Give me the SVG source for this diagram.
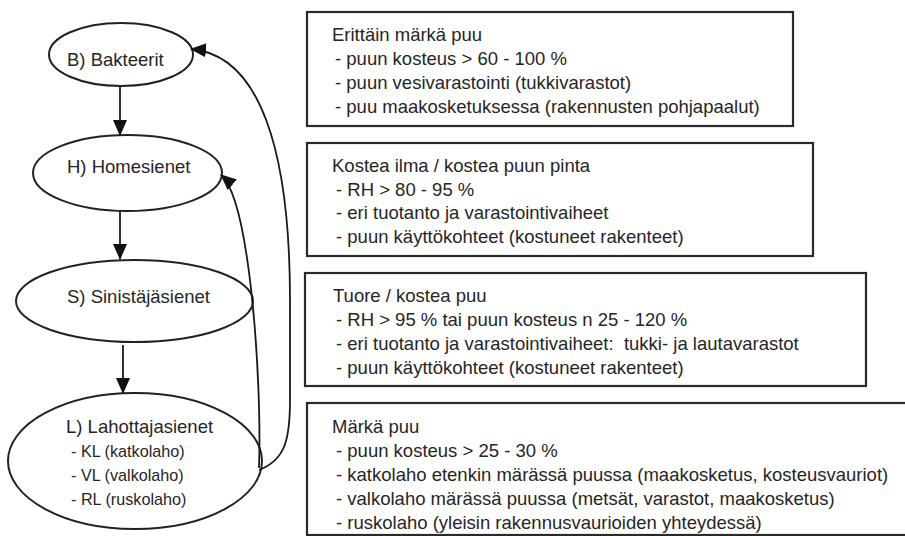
<svg xmlns="http://www.w3.org/2000/svg" width="905" height="536" viewBox="0 0 905 536">
<defs>
<style>
.node{fill:#fff;stroke:#222;stroke-width:2}
.box{fill:#fff;stroke:#2a2a2a;stroke-width:2.2}
.t{font-family:"Liberation Sans",Arial,sans-serif;font-size:18.5px;fill:#262626}
.s{font-family:"Liberation Sans",Arial,sans-serif;font-size:16.2px;fill:#262626}
.c{fill:none;stroke:#1a1a1a;stroke-width:1.8}
</style>
<marker id="ah" markerUnits="userSpaceOnUse" markerWidth="16" markerHeight="16" viewBox="0 0 16 14" refX="15" refY="7" orient="auto">
<path d="M0,0 L16,7 L0,14 Z" fill="#111"/>
</marker>
</defs>
<rect width="905" height="536" fill="#fff"/>

<g id="node-B">
<ellipse class="node" cx="121" cy="54.5" rx="72" ry="31.5"/>
<text class="t" x="67" y="66">B) Bakteerit</text>
</g>
<g id="node-H">
<ellipse class="node" cx="127.5" cy="173" rx="94.5" ry="38"/>
<text class="t" x="67" y="173">H) Homesienet</text>
</g>
<g id="node-S">
<ellipse class="node" cx="134.5" cy="301" rx="118.5" ry="41"/>
<text class="t" x="67" y="303">S) Sinistäjäsienet</text>
</g>
<g id="node-L">
<ellipse class="node" cx="135" cy="461" rx="127" ry="68"/>
<text class="t" x="66" y="433">L) Lahottajasienet</text>
<text class="s" x="71" y="457">- KL (katkolaho)</text>
<text class="s" x="71" y="481">- VL (valkolaho)</text>
<text class="s" x="71" y="505">- RL (ruskolaho)</text>
</g>

<g id="connectors">
<path class="c" d="M120,86 L120,135" marker-end="url(#ah)"/>
<path class="c" d="M120,211 L120,259" marker-end="url(#ah)"/>
<path class="c" d="M123,345 L123,393" marker-end="url(#ah)"/>
<path class="c" d="M259,468 C262,380 250,200 221,175" marker-end="url(#ah)"/>
<path class="c" d="M259,470 C285,460 290,440 290,400 L290,300 C290,150 260,55 191,49" marker-end="url(#ah)"/>
</g>

<g id="box-1">
<rect class="box" x="307" y="12" width="486" height="114"/>
<text class="t" x="332" y="41">Erittäin märkä puu</text>
<text class="t" x="335" y="65">- puun kosteus &gt; 60 - 100 %</text>
<text class="t" x="335" y="89">- puun vesivarastointi (tukkivarastot)</text>
<text class="t" x="335" y="113">- puu maakosketuksessa (rakennusten pohjapaalut)</text>
</g>
<g id="box-2">
<rect class="box" x="307" y="143" width="506" height="113"/>
<text class="t" x="332" y="172">Kostea ilma / kostea puun pinta</text>
<text class="t" x="336" y="196">- RH &gt; 80 - 95 %</text>
<text class="t" x="336" y="219">- eri tuotanto ja varastointivaiheet</text>
<text class="t" x="336" y="243">- puun käyttökohteet (kostuneet rakenteet)</text>
</g>
<g id="box-3">
<rect class="box" x="305" y="273" width="561" height="113"/>
<text class="t" x="333" y="302">Tuore / kostea puu</text>
<text class="t" x="336" y="326">- RH &gt; 95 % tai puun kosteus n 25 - 120 %</text>
<text class="t" x="336" y="350">- eri tuotanto ja varastointivaiheet:&#160; tukki- ja lautavarastot</text>
<text class="t" x="336" y="374">- puun käyttökohteet (kostuneet rakenteet)</text>
</g>
<g id="box-4">
<rect class="box" x="307" y="403" width="610" height="132"/>
<text class="t" x="332" y="433">Märkä puu</text>
<text class="t" x="336" y="457">- puun kosteus &gt; 25 - 30 %</text>
<text class="t" x="336" y="481">- katkolaho etenkin märässä puussa (maakosketus, kosteusvauriot)</text>
<text class="t" x="336" y="505">- valkolaho märässä puussa (metsät, varastot, maakosketus)</text>
<text class="t" x="336" y="529">- ruskolaho (yleisin rakennusvaurioiden yhteydessä)</text>
</g>
</svg>
